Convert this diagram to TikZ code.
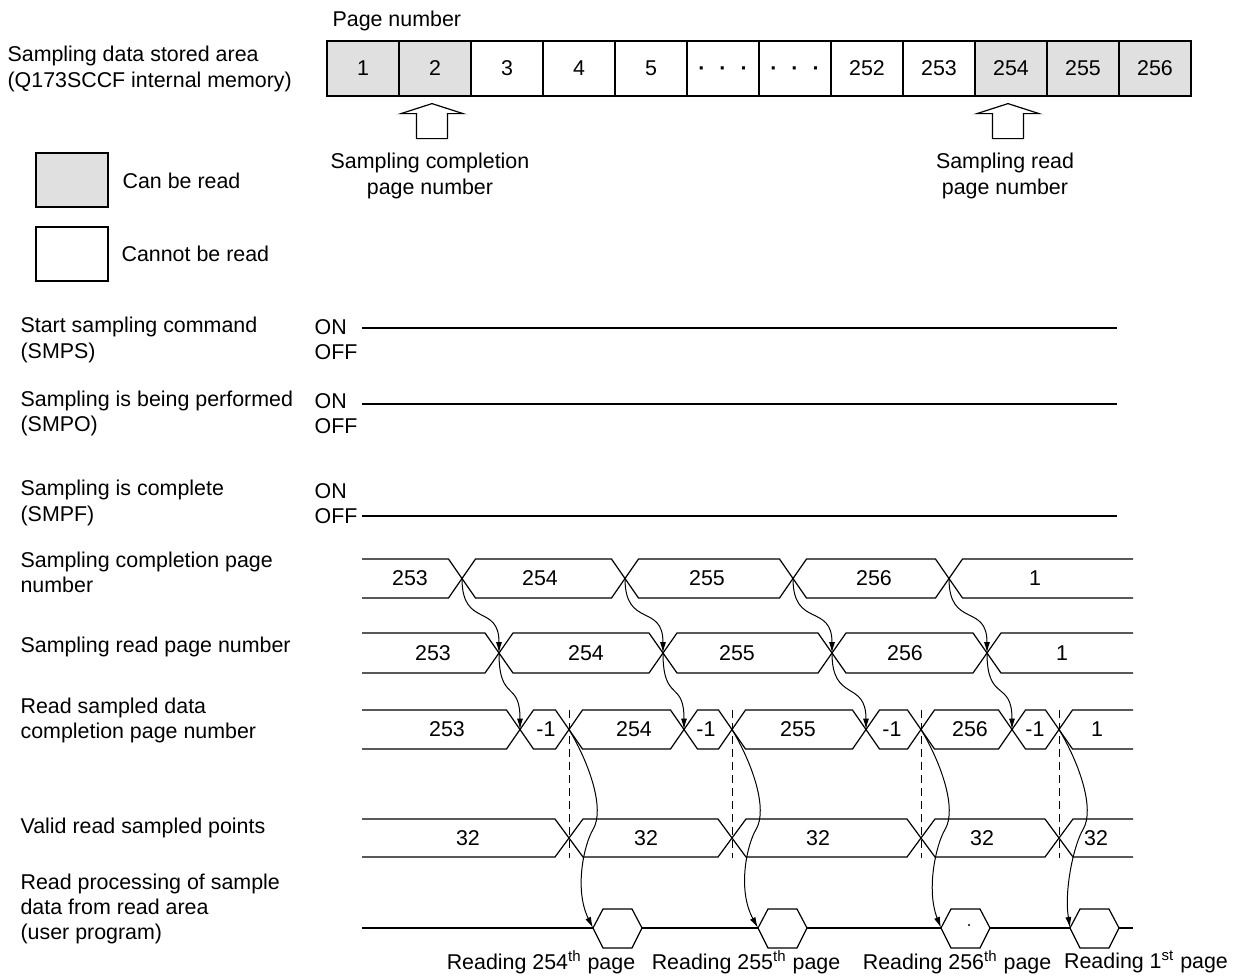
\documentclass[tikz,border=0pt]{standalone}
\usepackage{fontspec}
\setmainfont{Liberation Sans}
\usetikzlibrary{arrows.meta,calc}
\definecolor{readgray}{RGB}{224,224,224}
\newcommand{\onedot}{\raisebox{-3.3pt}[0pt][0pt]{\textbf{·}}}
\newcommand{\pagedots}{\onedot\hspace{7pt}\onedot\hspace{7pt}\onedot}

\begin{document}
\begin{tikzpicture}[x=0.5pt,y=-0.5pt,line width=0.6pt,
  font=\fontsize{10.7}{12.6}\selectfont,
  txt/.style={inner sep=0pt,anchor=west,align=left},
  page/.style={draw,minimum width=36pt,minimum height=27.5pt,inner sep=0pt},
  legbox/.style={draw,minimum width=36pt,minimum height=27pt,inner sep=0pt},
  bus/.style={line width=0.6pt},
  link/.style={-{Latex[length=5.5pt,width=3pt]},line width=0.5pt},
  guide/.style={dash pattern=on 4pt off 2.5pt,line width=0.5pt}]
  \useasboundingbox (0,0) rectangle (1244,976);

  % memory area with its pages
  \node[txt] (area) at (7,69) {Sampling data stored area\\(Q173SCCF internal memory)};
  \node[txt] (pgnum) at (332,21) {Page number};
  \foreach \t/\f [count=\i] in {1/readgray,2/readgray,3/white,4/white,5/white,\pagedots/white,\pagedots/white,252/white,253/white,254/readgray,255/readgray,256/readgray}
    \node[page,fill=\f] (pg\i) at (291+72*\i,68.5) {\t};
  % hollow pointers below the pages
  \foreach \p in {pg2,pg10}
    \draw[fill=white] ($(\p.south)+(-3,7)$) -- ++(31,10) -- ++(-15.5,0) -- ++(0,25) -- ++(-31,0) -- ++(0,-25) -- ++(-15.5,0) -- cycle;
  \node[align=center,inner sep=0pt] (cplabel) at (430,176) {Sampling completion\\page number};
  \node[align=center,inner sep=0pt] (rdlabel) at (1005,176) {Sampling read\\page number};

  % legend
  \node[legbox,fill=readgray] (canbox) at (72,180) {};
  \node[txt] (cantxt) at (122,181) {Can be read};
  \node[legbox,fill=white] (cannotbox) at (72,254) {};
  \node[txt] (cannottxt) at (121,254) {Cannot be read};

  % bit signals
  \node[txt] (smps) at (20,340) {Start sampling command\\(SMPS)};
  \node[txt] (smpsio) at (314,340) {ON\\OFF};
  \draw (362,328) -- (1117,328);
  \node[txt] (smpo) at (20,413.5) {Sampling is being performed\\(SMPO)};
  \node[txt] (smpoio) at (314,413.5) {ON\\OFF};
  \draw (362,404) -- (1117,404);
  \node[txt] (smpf) at (20,503) {Sampling is complete\\(SMPF)};
  \node[txt] (smpfio) at (314,504) {ON\\OFF};
  \draw (362,516) -- (1117,516);

  % sampling completion page number
  \node[txt] (cpn) at (20,572.5) {Sampling completion page\\number};
  \draw[bus] (362,559) -- (448.5,559) -- (462,578.5) -- (448.5,598) -- (362,598);
  \foreach \a/\b in {462/625,625/793,793/949}
    \draw[bus] (\a,578.5) -- (\a+13.5,559) -- (\b-13.5,559) -- (\b,578.5) -- (\b-13.5,598) -- (\a+13.5,598) -- cycle;
  \draw[bus] (1133,559) -- (962.5,559) -- (949,578.5) -- (962.5,598) -- (1133,598);
  \foreach \x [count=\i] in {462,625,793,949} \coordinate (cx\i) at (\x,578.5);
  \foreach \x/\t [count=\i] in {410/253,540/254,707/255,874/256,1035/1}
    \node (cv\i) at (\x,578.5) {\t};

  % sampling read page number
  \node[txt] (rpn) at (20,647) {Sampling read page number};
  \draw[bus] (362,633) -- (485,633) -- (499,653) -- (485,673) -- (362,673);
  \foreach \a/\b in {499/663,663/832,832/987}
    \draw[bus] (\a,653) -- (\a+14,633) -- (\b-14,633) -- (\b,653) -- (\b-14,673) -- (\a+14,673) -- cycle;
  \draw[bus] (1133,633) -- (1001,633) -- (987,653) -- (1001,673) -- (1133,673);
  \foreach \x [count=\i] in {499,663,832,987} \coordinate (rx\i) at (\x,653);
  \foreach \x/\t [count=\i] in {433/253,586/254,737/255,905/256,1062/1}
    \node (rv\i) at (\x,653) {\t};

  % read sampled data completion page number
  \node[txt] (rdc) at (20,720.5) {Read sampled data\\completion page number};
  \draw[bus] (362,710) -- (506.5,710) -- (520,729.5) -- (506.5,749) -- (362,749);
  \foreach \a/\b in {520/569,569/684,684/732,732/866,866/921,921/1012,1012/1059}
    \draw[bus] (\a,729.5) -- (\a+13.5,710) -- (\b-13.5,710) -- (\b,729.5) -- (\b-13.5,749) -- (\a+13.5,749) -- cycle;
  \draw[bus] (1133,710) -- (1072.5,710) -- (1059,729.5) -- (1072.5,749) -- (1133,749);
  \foreach \x [count=\i] in {520,684,866,1012} \coordinate (dx\i) at (\x,729.5);
  \foreach \x [count=\i] in {569,732,921,1059} \coordinate (vx\i) at (\x,729.5);
  \foreach \x/\t [count=\i] in {447/253,546/-1,634/254,706/-1,798/255,892/-1,970/256,1035/-1,1097/1}
    \node (dv\i) at (\x,729.5) {\t};

  % valid read sampled points
  \node[txt] (vrp) at (20,828) {Valid read sampled points};
  \draw[bus] (362,819) -- (555,819) -- (569,838) -- (555,857) -- (362,857);
  \foreach \a/\b in {569/732,732/921,921/1059}
    \draw[bus] (\a,838) -- (\a+14,819) -- (\b-14,819) -- (\b,838) -- (\b-14,857) -- (\a+14,857) -- cycle;
  \draw[bus] (1133,819) -- (1073,819) -- (1059,838) -- (1073,857) -- (1133,857);
  \foreach \x [count=\i] in {468,646,818,982,1096}
    \node (pv\i) at (\x,838) {32};
  \foreach \x in {569,732,921,1059}
    \draw[guide] (\x,710) -- (\x,858);

  % user program read processing
  \node[txt] (rpr) at (20,909) {Read processing of sample\\data from read area\\(user program)};
  \draw (362,928) -- (1133,928);
  \foreach \x [count=\i] in {593,758,941,1070} {
    \draw[fill=white] (\x,928) -- ++(10,-19) -- ++(29,0) -- ++(10,19) -- ++(-10,20) -- ++(-29,0) -- cycle;
    \coordinate (hx\i) at (\x,928);
  }
  \fill (969,925) circle (1.2);
  \node (rd1) at (541,962) {Reading 254\textsuperscript{th} page};
  \node (rd2) at (746,962) {Reading 255\textsuperscript{th} page};
  \node (rd3) at (957,962) {Reading 256\textsuperscript{th} page};
  \node (rd4) at (1146,962) {Reading 1\textsuperscript{st} page};

  % timing arrows
  \foreach \i in {1,...,4} {
    \draw[link] (cx\i) .. controls ($(cx\i)+(0,50)$) and ($(rx\i)+(0,-50)$) .. (rx\i);
    \draw[link] (rx\i) .. controls ($(rx\i)+(0,50)$) and ($(dx\i)+(0,-50)$) .. (dx\i);
    \draw[link] (vx\i) .. controls ($(vx\i)+(21,35)$) and ($(vx\i)+(36,80)$) .. ($(vx\i)+(24,100)$)
      .. controls ($(vx\i)+(15,115)$) and ($(vx\i)+(5,160)$) .. (hx\i);
  }
\end{tikzpicture}
\end{document}
